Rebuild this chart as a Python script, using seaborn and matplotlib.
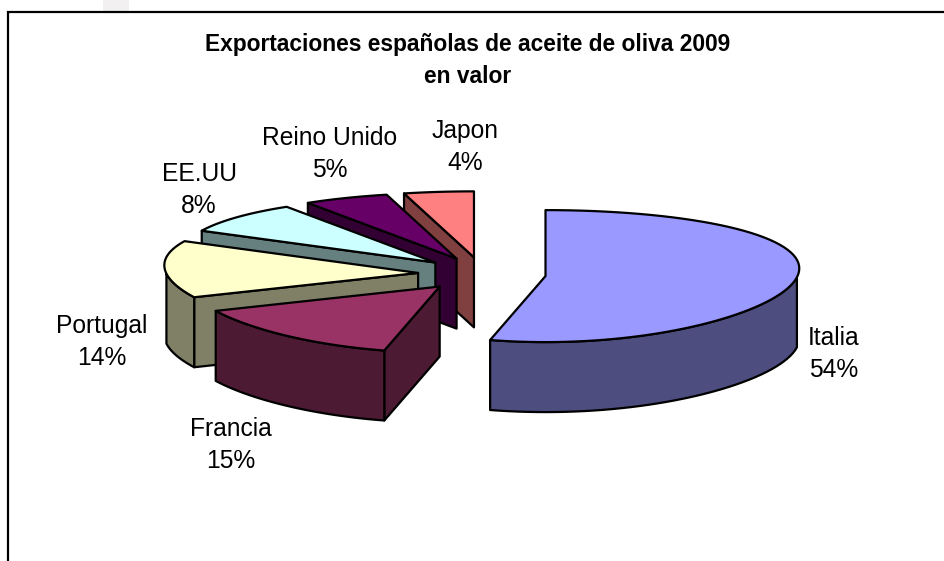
import numpy as np
import matplotlib.pyplot as plt
import seaborn as sns

# ================= DATA =================
paises = ["Italia", "Francia", "Portugal", "EE.UU", "Reino Unido", "Japon"]
porcentajes = [54, 15, 14, 8, 5, 4]
colores = ["#9999FF", "#993366", "#FFFFCC", "#CCFFFF", "#660066", "#FF8080"]

# ================= CONFIG =================
centro = (482, 274)
radio_x, radio_y = 252, 66
grosor = 70
explosion = 0.254
pos_etiquetas = [(834, 354), (231, 445), (102, 342), (199, 190), (330, 154), (465, 147)]

# ================= STYLE =================
sns.set_theme(style="white")
plt.rcParams["font.family"] = ["Liberation Sans", "DejaVu Sans"]
paleta = sns.color_palette(colores)


def punto(theta, cx, cy):
    # angulo en sentido horario desde arriba, ensanchado un poco atras
    return (cx + radio_x * np.sin(theta) * (1 + 0.12 * np.cos(theta)),
            cy - radio_y * np.cos(theta))


fig, ax = plt.subplots(figsize=(9.45, 5.61), dpi=100)
ax.set_position([0, 0, 1, 1])
ax.set_xlim(0, 945)
ax.set_ylim(561, 0)
ax.axis("off")

# marco del grafico
ax.fill([103, 129, 129, 103], [0, 0, 11, 11], color="#F2F0F0", lw=0)
ax.plot([945, 8, 8], [12, 12, 561], color="black", lw=1.6, solid_joinstyle="miter")

# ================= PIE =================
fin = np.cumsum(porcentajes) / sum(porcentajes) * 2 * np.pi
ini = np.r_[0, fin[:-1]]
borde = dict(ec="black", lw=1.6, joinstyle="round")

for i in [5, 4, 3, 2, 1, 0]:
    medio = (ini[i] + fin[i]) / 2
    cx = centro[0] + explosion * radio_x * np.sin(medio)
    cy = centro[1] - explosion * radio_y * np.cos(medio)
    arriba = paleta[i]
    lado = tuple(c * 0.5 for c in arriba)
    t = np.linspace(ini[i], fin[i], 80)
    xs, ys = punto(t, cx, cy)

    # cara del corte
    if ini[i] > np.pi:
        x0, y0 = punto(ini[i], cx, cy)
        ax.fill([cx, x0, x0, cx], [cy, y0, y0 + grosor, cy + grosor], fc=lado, **borde)

    # cara curva, solo la parte delantera
    vis = t[(t >= np.pi / 2) & (t <= 3 * np.pi / 2)]
    if len(vis) > 1:
        vx, vy = punto(vis, cx, cy)
        ax.fill(np.r_[vx, vx[::-1]], np.r_[vy, vy[::-1] + grosor], fc=lado, **borde)

    # cara superior
    ax.fill(np.r_[cx, xs], np.r_[cy, ys], fc=arriba, **borde)

# ================= TEXTOS =================
for nombre, valor, (x, y) in zip(paises, porcentajes, pos_etiquetas):
    ax.text(x, y, f"{nombre}\n{valor}%", ha="center", va="center", fontsize=17.7,
            color="black", linespacing=1.45)

ax.text(468, 60.5, "Exportaciones españolas de aceite de oliva 2009\nen valor", ha="center",
        va="center", fontsize=16.4, fontweight="bold", color="black", linespacing=1.48)

plt.savefig("out.png", dpi=100)
plt.close()
